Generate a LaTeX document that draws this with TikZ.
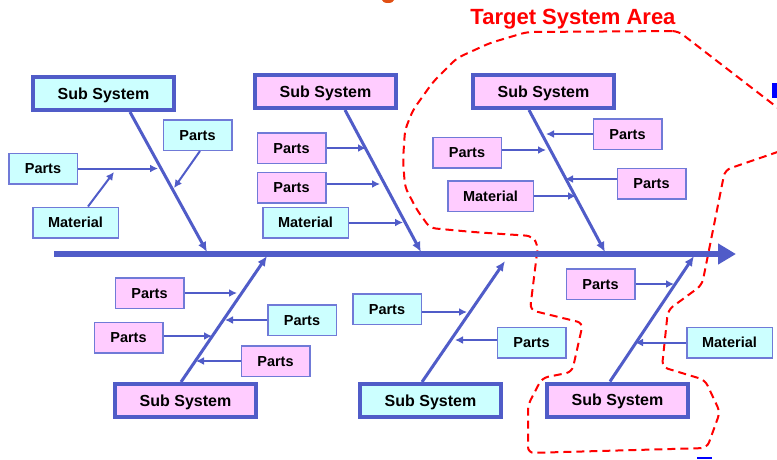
\documentclass[tikz,border=0pt]{standalone}
\usepackage{fontspec}
\setmainfont{Liberation Sans}
\usetikzlibrary{arrows.meta}
\definecolor{bonec}{RGB}{80,92,200}
\definecolor{edgec}{RGB}{112,122,215}
\definecolor{pinkf}{RGB}{255,204,255}
\definecolor{cyanf}{RGB}{204,255,255}
\tikzset{
 sub/.style={draw=bonec, line width=4pt, minimum width=141pt, minimum height=33pt, inner sep=0pt, text height=11.5pt, text depth=0pt, font=\bfseries\fontsize{16}{18}\selectfont},
 part/.style={draw=edgec, line width=1.5pt, minimum width=68.5pt, minimum height=30.5pt, inner sep=0pt, text height=10.4pt, text depth=0pt, font=\bfseries\fontsize{14.5}{16}\selectfont},
 mat/.style={part, minimum width=85.5pt},
 pk/.style={fill=pinkf}, cy/.style={fill=cyanf},
 bone/.style={draw=bonec, line width=3pt, -{Latex[length=10pt,width=9pt]}},
 arr/.style={draw=bonec, line width=2pt, -{Latex[length=8pt,width=8pt]}},
 area/.style={draw=red, line width=2pt, dash pattern=on 8pt off 5pt, rounded corners=6pt},
}
\begin{document}
\begin{tikzpicture}[x=1pt,y=-1pt]
\useasboundingbox (0,0) rectangle (777,459);
% edge fragments
\fill[fill={rgb,255:red,225;green,80;blue,20}] (388,0) ellipse (6pt and 3pt);
\fill[blue] (772,83) rectangle (777,98);
\fill[blue] (697,457) rectangle (712,459);
% title
\node[anchor=base, text=red, font=\bfseries\fontsize{22}{24}\selectfont, inner sep=0pt] (title) at (573,24) {Target System Area};
% target area
\draw[area] (678,31) -- (527,32) -- (490,43) -- (457,58) -- (433,82) -- (413,110) -- (405,130) -- (403,160) -- (405,187) -- (417,210) -- (430,228) -- (473,232) -- (532,236) -- (538,245) -- (530,310) -- (583,323) -- (572,372) -- (542,378) -- (528,405) -- (528,453) -- (707,448) -- (720,412) -- (705,380) -- (662,367) -- (668,310) -- (702,285) -- (725,170) -- (795,146) -- (800,125) -- cycle;
% spine
\coordinate (sp0) at (54,254);
\coordinate (sp1) at (736,254);
\draw[draw=bonec, line width=6pt, -{Triangle[length=18pt,width=20pt]}] (sp0) -- (sp1);
% sub systems
\node[sub, cy] (S1) at (103.5,93.5) {Sub System};
\node[sub, pk] (S2) at (325.5,91.5) {Sub System};
\node[sub, pk] (S3) at (543.5,91.5) {Sub System};
\node[sub, pk] (S4) at (185.5,400.5) {Sub System};
\node[sub, cy] (S5) at (430.5,400.5) {Sub System};
\node[sub, pk] (S6) at (617.5,400) {Sub System};
% bone ends
\coordinate (t1) at (207,252);
\coordinate (t2) at (421,252);
\coordinate (t3) at (605,252);
\coordinate (u1) at (267,256);
\coordinate (u2) at (505,261);
\coordinate (u3) at (694,256);
\draw[bone] (S1.south -| 130,0) -- (t1);
\draw[bone] (S2.south -| 345,0) -- (t2);
\draw[bone] (S3.south -| 529,0) -- (t3);
\draw[bone] (S4.north -| 181,0) -- (u1);
\draw[bone] (S5.north -| 422,0) -- (u2);
\draw[bone] (S6.north -| 610,0) -- (u3);
% small boxes
\node[part, cy] (A1) at (43,168.5) {Parts};
\node[part, cy] (A2) at (197.5,135) {Parts};
\node[mat, cy] (A3) at (75.5,222.5) {Material};
\node[part, pk] (B1) at (291.5,148) {Parts};
\node[part, pk] (B2) at (291.5,187.5) {Parts};
\node[mat, cy] (B3) at (305.5,222.5) {Material};
\node[part, pk] (C1) at (627.5,134) {Parts};
\node[part, pk] (C2) at (467,152.5) {Parts};
\node[part, pk] (C3) at (651.5,183.5) {Parts};
\node[mat, pk] (C4) at (490.5,196) {Material};
\node[part, pk] (D1) at (149.5,293) {Parts};
\node[part, pk] (D2) at (128.5,337.5) {Parts};
\node[part, cy] (D3) at (302,320) {Parts};
\node[part, pk] (D4) at (275.5,361) {Parts};
\node[part, cy] (E1) at (387,309) {Parts};
\node[part, cy] (E2) at (531.5,342.5) {Parts};
\node[part, pk] (F1) at (600.5,284) {Parts};
\node[mat, cy] (F2) at (729.5,342.5) {Material};
% arrow targets
\coordinate (a1) at (158,168.5);
\coordinate (a2) at (174,188);
\coordinate (a3) at (114,172);
\coordinate (b1) at (366,148);
\coordinate (b2) at (380,184);
\coordinate (b3) at (403,222.5);
\coordinate (c1) at (546,134);
\coordinate (c2) at (546,150);
\coordinate (c3) at (565,179);
\coordinate (c4) at (576,196);
\coordinate (d1) at (237,293);
\coordinate (d2) at (212,336);
\coordinate (d3) at (225,320);
\coordinate (d4) at (196,361);
\coordinate (e1) at (467,312);
\coordinate (e2) at (455,340);
\coordinate (f1) at (674,284);
\coordinate (f2) at (635,342.5);
\draw[arr] (A1.east) -- (a1);
\draw[arr] (A2.south -| 200,0) -- (a2);
\draw[arr] (A3.north -| 88,0) -- (a3);
\draw[arr] (B1.east) -- (b1);
\draw[arr] (B2.east |- b2) -- (b2);
\draw[arr] (B3.east) -- (b3);
\draw[arr] (C1.west) -- (c1);
\draw[arr] (C2.east |- c2) -- (c2);
\draw[arr] (C3.west |- c3) -- (c3);
\draw[arr] (C4.east) -- (c4);
\draw[arr] (D1.east) -- (d1);
\draw[arr] (D2.east |- d2) -- (d2);
\draw[arr] (D3.west) -- (d3);
\draw[arr] (D4.west) -- (d4);
\draw[arr] (E1.east |- e1) -- (e1);
\draw[arr] (E2.west |- e2) -- (e2);
\draw[arr] (F1.east) -- (f1);
\draw[arr] (F2.west) -- (f2);
\end{tikzpicture}
\end{document}
